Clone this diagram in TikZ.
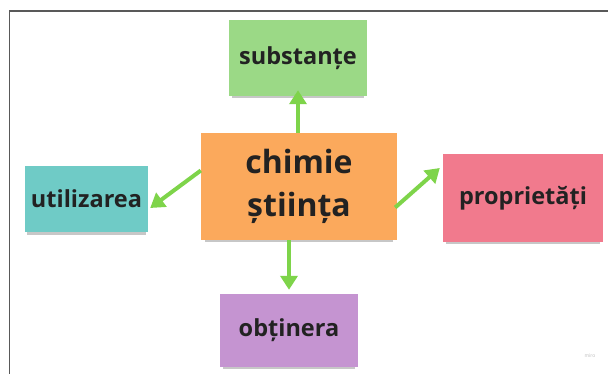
\documentclass[tikz,border=0pt]{standalone}
\usepackage{fontspec}
\setmainfont{Open Sans}
\usetikzlibrary{arrows.meta,shadows}
\definecolor{notegreen}{HTML}{9BD986}
\definecolor{noteorange}{HTML}{FBA95C}
\definecolor{noteteal}{HTML}{6FCBC6}
\definecolor{notepink}{HTML}{F17A8D}
\definecolor{notepurple}{HTML}{C594D1}
\definecolor{linkgreen}{HTML}{7ED44A}
\definecolor{notetext}{HTML}{222222}
\tikzset{
	note/.style={inner sep=0pt, align=center, text=notetext, font=\bfseries\fontsize{23.5}{28}\selectfont,
		drop shadow={shadow xshift=0pt, shadow yshift=-4pt, shadow scale=0.96, opacity=0.22, fill=black}},
	link/.style={line width=4pt, color=linkgreen, -{Triangle[width=17pt, length=14pt]}}
}

\begin{document}
\begin{tikzpicture}[x=1pt, y=-1pt]
			%%%%% START %%%%%
			
			\useasboundingbox (0, 0) rectangle (608, 374);
			\fill[white] (0, 0) rectangle (608, 374);
			\draw[line width=1.5pt, color=black!65] (9.5, 374) -- (9.5, 11) -- (608, 11);
			
			\node[note, fill=notegreen, minimum width=138pt, minimum height=76pt] (subst) at (298, 58) {substanțe};
			\node[note, fill=noteorange, minimum width=196pt, minimum height=107pt,
				font=\bfseries\fontsize{32}{43}\selectfont] (chem) at (299, 186.5) {chimie\\știința};
			\node[note, fill=noteteal, minimum width=123pt, minimum height=66pt] (util) at (86.5, 199) {utilizarea};
			\node[note, fill=notepink, minimum width=160pt, minimum height=88pt] (prop) at (523, 198) {proprietăți};
			\node[note, fill=notepurple, minimum width=138pt, minimum height=73pt] (obt) at (289, 330.5) {obținera};
			
			\draw[link, shorten >=-6pt] (chem.north -| subst.south) -- (subst.south);
			\draw[link, shorten >=4pt] (chem.south -| obt.north) -- (obt.north);
			\draw[link] ([yshift=16pt]chem.west) -- ([yshift=-9pt, xshift=2pt]util.east);
			\draw[link] ([yshift=-21pt, xshift=-2pt]chem.east) -- ([yshift=30pt, xshift=-3pt]prop.west);
			
			\node[text=black!25, font=\tiny] (brand) at (590, 356) {miro};
			
			%%%%% END %%%%%
\end{tikzpicture}
\end{document}
